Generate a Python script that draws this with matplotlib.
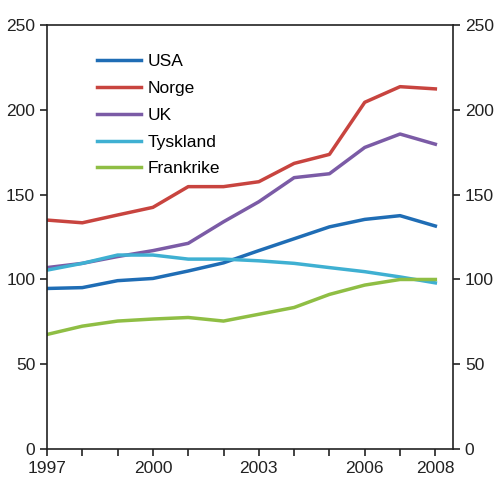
import matplotlib
matplotlib.use('Agg')
import matplotlib.pyplot as plt

plt.rcParams['font.family'] = ['Liberation Sans', 'DejaVu Sans']

years = list(range(1997, 2009))
usa = [94.7, 95.2, 99.3, 100.6, 105.0, 109.8, 117.0, 124.0, 131.0, 135.4, 137.6, 131.5]
norge = [135.0, 133.4, 138.0, 142.5, 154.7, 154.7, 157.6, 168.4, 173.7, 204.4, 213.6, 212.3]
uk = [107.0, 109.5, 113.5, 117.0, 121.3, 134.0, 145.8, 160.0, 162.3, 177.8, 185.7, 179.7]
tyskland = [105.5, 109.5, 114.4, 114.4, 112.0, 112.0, 111.0, 109.5, 107.0, 104.6, 101.5, 98.0]
frankrike = [67.6, 72.5, 75.5, 76.7, 77.6, 75.5, 79.5, 83.5, 91.2, 96.7, 100.0, 100.0]

series = [('USA', usa, '#1f6db5'),
          ('Norge', norge, '#c8443f'),
          ('UK', uk, '#7b5ba6'),
          ('Tyskland', tyskland, '#3fb0d2'),
          ('Frankrike', frankrike, '#8fbe44')]

fig = plt.figure(figsize=(5.0, 4.98), dpi=100)
ax = fig.add_axes([0.094, 0.098, 0.812, 0.852])

for name, vals, col in series:
    ax.plot(years, vals, color=col, lw=2.5, label=name)

ax.set_xlim(1997, 2008.5)
ax.set_ylim(0, 250)
ax.set_xticks(years)
ax.set_xticklabels([str(y) if y in (1997, 2000, 2003, 2006, 2008) else '' for y in years])
ax.set_yticks([0, 50, 100, 150, 200, 250])
ax.tick_params(axis='both', direction='out', length=5, width=1.2, labelsize=12.5, colors='#222222')
ax.tick_params(axis='y', right=True, labelright=True)
for s in ax.spines.values():
    s.set_linewidth(1.2)
    s.set_color('#222222')

ax.legend(loc='upper left', bbox_to_anchor=(0.085, 0.968), frameon=False, fontsize=12.5,
          handlelength=2.5, labelspacing=0.67, handletextpad=0.4)

fig.savefig('out.png', dpi=100)
